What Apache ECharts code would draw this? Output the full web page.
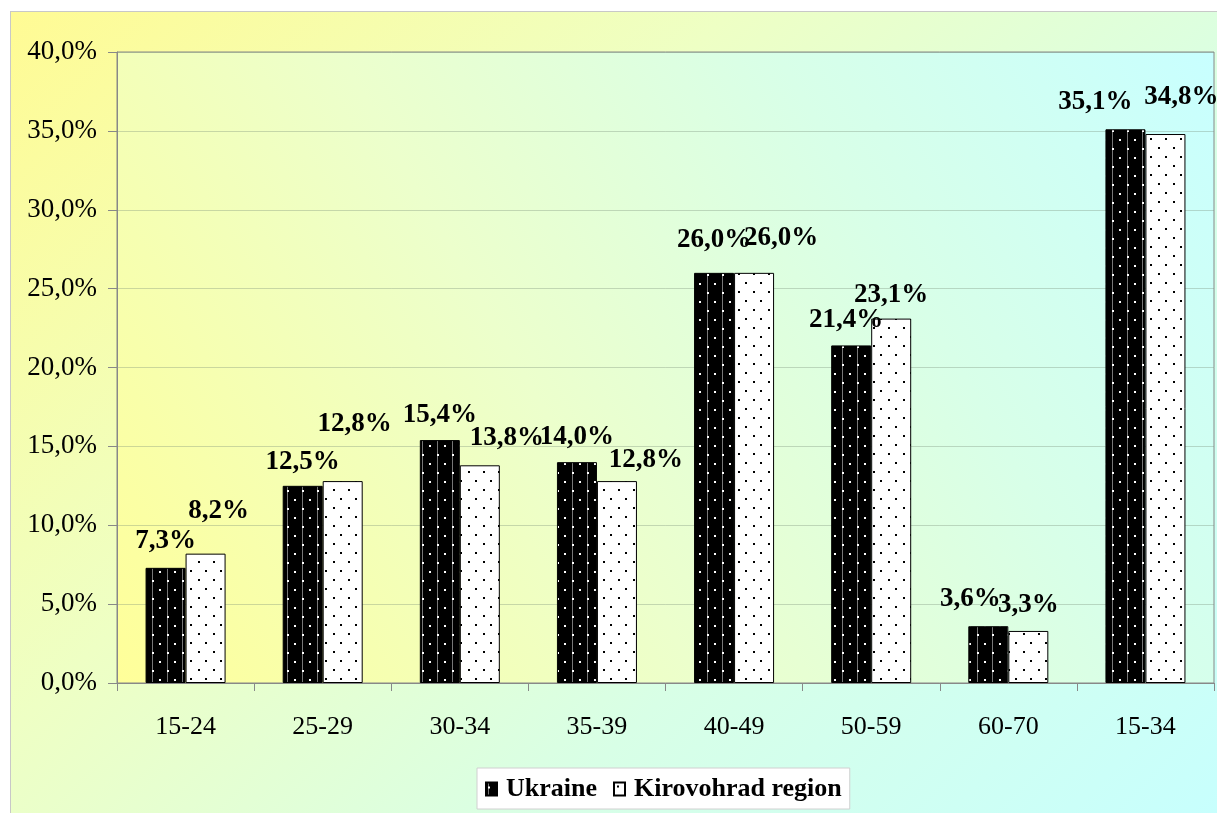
<!DOCTYPE html>
<html>
<head>
<meta charset="utf-8">
<script src="https://cdn.jsdelivr.net/npm/echarts@6/dist/echarts.min.js"></script>
<style>
html,body{margin:0;padding:0;background:#fff;overflow:hidden;}
#frame{position:absolute;left:10px;top:11px;width:1230px;height:830px;border:1px solid #c8c8c8;box-sizing:border-box;
background:linear-gradient(135deg,#fffb94 0%,#eeffc4 35%,#d8ffe6 65%,#c6ffff 100%);}
#chart{position:absolute;left:0;top:0;width:1217px;height:813px;}
</style>
</head>
<body>
<div id="frame"></div>
<div id="chart"></div>
<script>
const categories = ['15-24','25-29','30-34','35-39','40-49','50-59','60-70','15-34'];
const ukraine = [7.3, 12.5, 15.4, 14.0, 26.0, 21.4, 3.6, 35.1];
const kirovohrad = [8.2, 12.8, 13.8, 12.8, 26.0, 23.1, 3.3, 34.8];
const seriesNames = ['Ukraine', 'Kirovohrad region'];

// label placement tweaks (style only): [dx, distance above bar]
const ukraineLabelShift = [[0,13],[0,10],[0,12],[0,12],[0,19],[-5,12],[-18,14],[-30,14]];
const kirovohradLabelShift = [[13,29],[12,44],[27,14],[29,8],[27,21],[0,10],[0,12],[16,23]];

function blackPattern(){
  const c = document.createElement('canvas'); c.width = 15; c.height = 18;
  const g = c.getContext('2d');
  g.fillStyle = '#000'; g.fillRect(0,0,15,18);
  g.fillStyle = '#777'; g.fillRect(2,0,1,18);
  g.fillStyle = '#fff';
  g.fillRect(2,4,2,2); g.fillRect(9,13,2,2);
  return c;
}
function whitePattern(){
  const c = document.createElement('canvas'); c.width = 15; c.height = 18;
  const g = c.getContext('2d');
  g.fillStyle = '#fff'; g.fillRect(0,0,15,18);
  g.fillStyle = '#000';
  g.fillRect(3,3,2,2); g.fillRect(10,12,2,2);
  return c;
}
const fmt = v => v.toFixed(1).replace('.', ',') + '%';
const serif = '"Liberation Serif", "Times New Roman", serif';

function withLabels(values, shifts){
  return values.map((v, i) => ({
    value: v,
    label: {offset: [shifts[i][0], 0], distance: shifts[i][1]}
  }));
}

const labelBase = {show:true, position:'top', fontFamily:serif, fontWeight:'bold', fontSize:27, color:'#000', formatter: p => fmt(p.value)};

const chart = echarts.init(document.getElementById('chart'), null, {renderer:'canvas'});
chart.setOption({
  backgroundColor: 'transparent',
  animation: false,
  grid: {left:117, top:52, right:3, bottom:130,
    show:true, borderColor:'#888', borderWidth:1,
    backgroundColor:{type:'linear',x:0,y:1,x2:1,y2:0,colorStops:[
      {offset:0,color:'#ffff99'},{offset:0.4,color:'#ecffcc'},{offset:0.7,color:'#d8ffe8'},{offset:1,color:'#c8ffff'}]}},
  legend: {
    top: 768, left: 477,
    data: seriesNames,
    icon: 'rect',
    backgroundColor:'#fff', borderColor:'#d0d0d0', borderWidth:1,
    padding:[8,8,7,8], itemGap: 16, itemWidth: 11, itemHeight: 13,
    textStyle:{fontFamily:serif, fontWeight:'bold', fontSize:26, color:'#000', padding:[0,0,0,4]}
  },
  xAxis: {
    type:'category', data: categories,
    axisLine:{show:true, lineStyle:{color:'#888'}},
    axisTick:{show:true, length:8, lineStyle:{color:'#888'}},
    axisLabel:{fontFamily:serif, fontSize:26, color:'#000', margin:31}
  },
  yAxis: {
    type:'value', min:0, max:40, interval:5,
    axisLine:{show:true, lineStyle:{color:'#888'}},
    axisTick:{show:true, length:9, lineStyle:{color:'#888'}},
    splitLine:{lineStyle:{color:'rgba(120,140,120,0.35)'}},
    axisLabel:{fontFamily:serif, fontSize:27, color:'#000', margin:20, formatter: v => fmt(v)}
  },
  series: [
    {name: seriesNames[0], type:'bar', data: withLabels(ukraine, ukraineLabelShift), barWidth: 40, barGap: '0%',
     itemStyle:{color:{image: blackPattern(), repeat:'repeat'}, borderColor:'#000', borderWidth:1},
     label: labelBase},
    {name: seriesNames[1], type:'bar', data: withLabels(kirovohrad, kirovohradLabelShift), barWidth: 40,
     itemStyle:{color:{image: whitePattern(), repeat:'repeat'}, borderColor:'#000', borderWidth:1},
     label: labelBase}
  ]
});
</script>
</body>
</html>
